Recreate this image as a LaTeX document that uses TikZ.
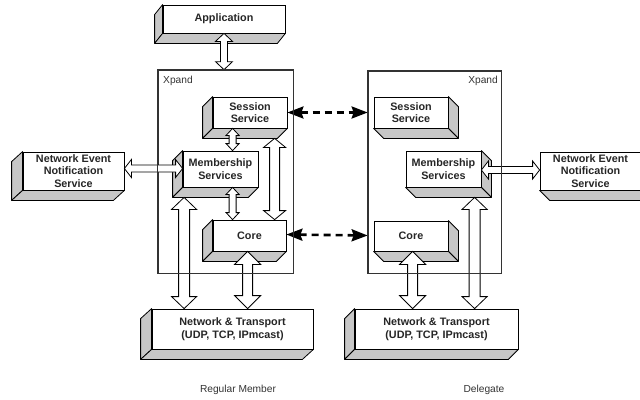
\documentclass[tikz,border=0pt]{standalone}
\usepackage{fontspec}
\setmainfont{Liberation Sans}
\usetikzlibrary{calc,arrows.meta}

% Outlined double-headed block arrow between two named points.
% #1 from, #2 to, #3 shaft half width, #4 head half width, #5 head length
\newcommand{\blockarrow}[5]{%
  \coordinate (ba-h1) at ($(#1)!#5!(#2)$);
  \coordinate (ba-h2) at ($(#2)!#5!(#1)$);
  \draw[blockarr] (#1) -- ($(ba-h1)!#4!90:(#2)$) -- ($(ba-h1)!#3!90:(#2)$)
     -- ($(ba-h2)!#3!-90:(#1)$) -- ($(ba-h2)!#4!-90:(#1)$) -- (#2)
     -- ($(ba-h2)!#4!90:(#1)$) -- ($(ba-h2)!#3!90:(#1)$)
     -- ($(ba-h1)!#3!-90:(#2)$) -- ($(ba-h1)!#4!-90:(#2)$) -- cycle;}

% Grey side and bottom faces of a 3D block, receding to the lower left
\newcommand{\depthleft}[3]{%
  \filldraw[face] (#1.north west) -- ++(-#2,#3) -- ([shift={(-#2,#3)}]#1.south west) -- (#1.south west) -- cycle;
  \filldraw[face] (#1.south west) -- ++(-#2,#3) -- ([shift={(-#2,#3)}]#1.south east) -- (#1.south east) -- cycle;}
% ... and receding to the lower right
\newcommand{\depthright}[3]{%
  \filldraw[face] (#1.north east) -- ++(#2,#3) -- ([shift={(#2,#3)}]#1.south east) -- (#1.south east) -- cycle;
  \filldraw[face] (#1.south west) -- ++(#2,#3) -- ([shift={(#2,#3)}]#1.south east) -- (#1.south east) -- cycle;}

\tikzset{
  front/.style={draw=black, fill=white, line width=0.8pt, inner sep=0pt, align=center,
    font=\bfseries\fontsize{10.8}{12.6}\selectfont, text=black!85},
  face/.style={draw=black, fill=black!22, line width=0.8pt, line join=round},
  blockarr/.style={draw=black, fill=white, line width=0.8pt, line join=miter},
  peerlink/.style={line width=2.6pt, dash pattern=on 7pt off 5pt,
    {Stealth[length=16pt,width=12pt,inset=2pt]}-{Stealth[length=16pt,width=12pt,inset=2pt]}},
  container/.style={draw=black!80, line width=0.7pt, inner sep=0pt},
  caption/.style={inner sep=0pt, font=\fontsize{10.2}{12}\selectfont, text=black!80}
}

\begin{document}
\begin{tikzpicture}[x=1pt, y=-1pt]
\useasboundingbox (0,0) rectangle (640,399);
\clip (0,0) rectangle (640,399);

% Xpand containers
\node[container, minimum width=135pt, minimum height=203pt] (lx) at (225.5,171.5) {};
\node[container, minimum width=133pt, minimum height=202pt] (rx) at (434.5,172) {};
\node[caption, anchor=west] (lxl) at (163,81) {Xpand};
\node[caption, anchor=east] (rxl) at (498,81) {Xpand};

% Application
\node[front, minimum width=122pt, minimum height=28pt] (app) at (224,19) {Application};
\depthleft{app}{8}{10}

% Regular member blocks
\node[front, minimum width=74pt, minimum height=31pt] (lsess) at (250,112.5) {Session\\Service};
\depthleft{lsess}{10}{10}
\node[front, minimum width=75pt, minimum height=36pt] (lmem) at (220.5,169) {Membership\\Services};
\depthleft{lmem}{10}{10}
\node[front, minimum width=73pt, minimum height=31pt] (lcore) at (249.5,235.5) {Core};
\depthleft{lcore}{10}{10}
\node[front, minimum width=101pt, minimum height=38pt] (lnens) at (73.5,171) {Network Event\\Notification\\Service};
\depthleft{lnens}{11}{10}
\node[front, minimum width=161pt, minimum height=40pt] (lnt) at (232.5,329) {Network \& Transport\\(UDP, TCP, IPmcast)};
\depthleft{lnt}{11}{10}

% Delegate blocks
\node[front, minimum width=74pt, minimum height=31pt] (rsess) at (411,112.5) {Session\\Service};
\depthright{rsess}{10}{10}
\node[front, minimum width=75pt, minimum height=36pt] (rmem) at (443.5,169) {Membership\\Services};
\depthright{rmem}{10}{10}
\node[front, minimum width=74pt, minimum height=30pt] (rcore) at (411,236) {Core};
\depthright{rcore}{10}{10}
\node[front, minimum width=101pt, minimum height=38pt] (rnens) at (590.5,171) {Network Event\\Notification\\Service};
\depthright{rnens}{10}{10}
\node[front, minimum width=163pt, minimum height=40pt] (rnt) at (436.5,329) {Network \& Transport\\(UDP, TCP, IPmcast)};
\depthleft{rnt}{10}{10}

% Connector end points
\coordinate (a1s) at (app.south);
\coordinate (a1e) at (app.south |- lx.north);
\coordinate (a2s) at ([shift={(20,0)}]lsess.south west);
\coordinate (a2e) at (a2s |- lmem.north);
\coordinate (a3s) at (a2s |- lmem.south);
\coordinate (a3e) at (a2s |- lcore.north);
\coordinate (a4s) at ([shift={(62,10)}]lsess.south west);
\coordinate (a4e) at (a4s |- lcore.north);
\coordinate (a5s) at ([shift={(0,-2.5)}]lnens.east);
\coordinate (a5e) at (a5s -| lmem.west);
\coordinate (a6s) at ([shift={(1.5,10)}]lmem.south west);
\coordinate (a6e) at (a6s |- lnt.north);
\coordinate (a7s) at ([shift={(35,0)}]lcore.south west);
\coordinate (a7e) at (a7s |- lnt.north);
\coordinate (a8s) at ([shift={(0,1)}]rmem.east);
\coordinate (a8e) at (a8s -| rnens.west);
\coordinate (a9s) at ([shift={(39,0)}]rcore.south west);
\coordinate (a9e) at (a9s |- rnt.north);
\coordinate (a10s) at ([shift={(69,10)}]rmem.south west);
\coordinate (a10e) at (a10s |- rnt.north);

% Block arrows
\blockarrow{a1s}{a1e}{3.5pt}{8.5pt}{8pt}
\blockarrow{a2s}{a2e}{3.5pt}{6.5pt}{7pt}
\blockarrow{a3s}{a3e}{3.5pt}{6.5pt}{7pt}
\blockarrow{a4s}{a4e}{5pt}{11pt}{9pt}
\blockarrow{a5s}{a5e}{3.5pt}{9pt}{7pt}
\blockarrow{a6s}{a6e}{5.5pt}{12.5pt}{12pt}
\blockarrow{a7s}{a7e}{5pt}{13pt}{13pt}
\blockarrow{a8s}{a8e}{3.5pt}{9pt}{7pt}
\blockarrow{a9s}{a9e}{5pt}{13pt}{13pt}
\blockarrow{a10s}{a10e}{5.5pt}{12.5pt}{12pt}

% Peer links between the two Xpand instances
\draw[peerlink] (lsess.east) -- (rx.west |- lsess.east);
\draw[peerlink] ([shift={(0,-1)}]lcore.east) -- (rx.west |- lcore.east);

% Container outlines on top of the crossing arrows
\draw[container] (lx.north west) rectangle (lx.south east);
\draw[container] (rx.north west) rectangle (rx.south east);

% Captions
\node[caption] (capl) at (238,390) {Regular Member};
\node[caption] (capr) at (484,390) {Delegate};
\end{tikzpicture}
\end{document}
